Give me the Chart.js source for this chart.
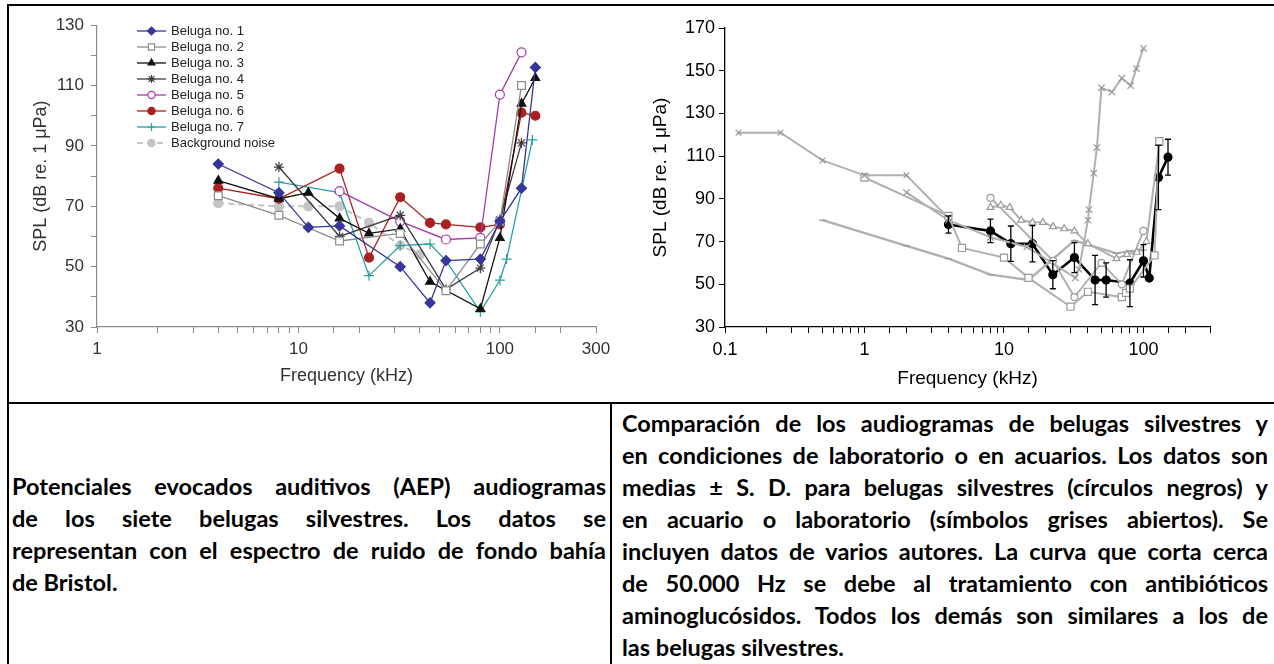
<!DOCTYPE html>
<html>
<head>
<meta charset="utf-8">
<script src="https://cdn.jsdelivr.net/npm/chart.js@4"></script>
<style>
  html, body { margin: 0; padding: 0; background: #fff; }
  body { width: 1274px; height: 664px; position: relative; overflow: hidden; }
  .ln { position: absolute; background: #000; }
  canvas { position: absolute; }
  .cap { position: absolute; font-family: Lato, "Open Sans", sans-serif; font-weight: bold; font-size: 23.5px; color: #000; }
  .cap div { height: 32px; line-height: 32px; text-align: justify; text-align-last: justify; white-space: normal; }
  .cap div.last { text-align-last: left; }
</style>
</head>
<body>
<canvas id="c1" width="610" height="392" style="left:10px;top:8px"></canvas>
<canvas id="c2" width="652" height="392" style="left:622px;top:8px"></canvas>

<div class="ln" style="left:7px;top:4px;width:1267px;height:2px"></div>
<div class="ln" style="left:7px;top:4px;width:2px;height:660px"></div>
<div class="ln" style="left:7px;top:402px;width:1267px;height:2px"></div>
<div class="ln" style="left:610px;top:402px;width:2px;height:262px"></div>

<div class="cap" style="left:12px;top:470px;width:594px">
  <div>Potenciales evocados auditivos (AEP) audiogramas</div>
  <div>de los siete belugas silvestres. Los datos se</div>
  <div>representan con el espectro de ruido de fondo bahía</div>
  <div class="last">de Bristol.</div>
</div>
<div class="cap" style="left:622px;top:407px;width:646px">
  <div>Comparación de los audiogramas de belugas silvestres y</div>
  <div>en condiciones de laboratorio o en acuarios. Los datos son</div>
  <div>medias ± S. D. para belugas silvestres (círculos negros) y</div>
  <div>en acuario o laboratorio (símbolos grises abiertos). Se</div>
  <div>incluyen datos de varios autores. La curva que corta cerca</div>
  <div>de 50.000 Hz se debe al tratamiento con antibióticos</div>
  <div>aminoglucósidos. Todos los demás son similares a los de</div>
  <div class="last">las belugas silvestres.</div>
</div>

<script>
// ---------- Left chart data (AEP audiograms, seven wild belugas) ----------
const leftXLabels = [1, 10, 100, 300];
const leftYLabels = [30, 50, 70, 90, 110, 130];
const seriesNames = ["Beluga no. 1", "Beluga no. 2", "Beluga no. 3", "Beluga no. 4",
                     "Beluga no. 5", "Beluga no. 6", "Beluga no. 7", "Background noise"];

const b1Freq = [4, 8, 11.2, 16, 32, 45, 54, 80, 100, 128, 150];
const b1SPL  = [84, 74.5, 63, 63.5, 50, 38, 52, 52.5, 65, 76, 116];
const b2Freq = [4, 8, 16, 32, 54, 80, 100, 128];
const b2SPL  = [73.5, 67, 58.5, 61, 42, 57.5, 65, 110];
const b3Freq = [4, 8, 11.2, 16, 22.4, 32, 45, 80, 100, 128, 150];
const b3SPL  = [78.5, 72.5, 74.5, 66, 61, 62.5, 45, 36, 59.5, 104, 112.5];
const b4Freq = [8, 16, 32, 54, 80, 100, 128];
const b4SPL  = [83, 60, 67, 42.5, 49.5, 65.5, 91];
const b5Freq = [16, 32, 54, 80, 100, 128];
const b5SPL  = [75, 65, 59, 59.5, 107, 121];
const b6Freq = [4, 8, 16, 22.4, 32, 45, 54, 80, 100, 128, 150];
const b6SPL  = [76, 72.5, 82.5, 53, 73, 64.5, 64, 63, 64, 101, 100];
const b7Freq = [8, 16, 22.4, 32, 45, 54, 80, 100, 108, 145];
const b7SPL  = [78, 74.5, 47, 57, 57.5, 52, 35, 45.5, 52.5, 92];
const bgFreq = [4, 8, 11.2, 16, 22.4, 32, 40];
const bgSPL  = [71, 70, 70, 70, 64.5, 57, 54];

// ---------- Right chart data (wild vs. captive audiograms) ----------
const rightXLabels = [0.1, 1, 10, 100];
const capAFreq = [0.125, 0.25, 0.5, 1, 2, 4];
const capASPL  = [121, 121, 108, 101, 101, 81];
const capBFreq = [1, 4, 5, 10, 15, 30, 40, 70, 75, 80, 120, 130];
const capBSPL  = [100, 82, 67, 62.5, 53, 39.5, 46.5, 44, 46, 48, 63.5, 117];
const capCFreq = [8, 9.5, 11, 13.3, 16, 19, 22.5, 27, 32, 40, 64, 76, 90, 105, 130];
const capCSPL  = [86, 87, 86, 80, 79, 79, 77, 76, 75, 69, 62, 64, 65, 70, 116];
const capDFreq = [8, 22.5, 32, 50, 70, 100];
const capDSPL  = [90.5, 61, 44, 60, 50, 75];
const capEFreq = [2, 4, 8, 14.6, 32.5, 34.5, 40, 40.7, 44, 46.4, 50, 59.4, 70, 81, 89, 100];
const capESPL  = [93, 80, 72, 67.5, 53, 57, 80, 85, 102, 114, 142, 140, 146.5, 143, 151, 160.5];
const capFFreq = [0.5, 2, 4, 8, 15, 32, 64, 80, 100];
const capFSPL  = [80, 68, 62, 54.5, 52, 70.5, 64.5, 65.5, 66];
const wildFreq = [4, 8, 11.2, 16, 22.4, 32, 45, 54, 80, 100, 110, 128, 150];
const wildSPL  = [78, 75, 69, 69, 54.5, 62.5, 52, 52, 50.5, 61, 53, 100, 109.5];
const wildSD   = [4, 5.5, 8.3, 8.5, 6.6, 7, 11.5, 8, 11, 7.6, 0, 15, 8.4];

function pts(f, v) { return f.map((x, i) => ({ x: x, y: v[i] })); }
const near = (v, list) => list.some(t => Math.abs(v - t) / t < 1e-6);
const FONT = "'Liberation Sans', Arial, Helvetica, sans-serif";

function ds(label, f, v, color, style, opts) {
  return Object.assign({
    label: label, data: pts(f, v), borderColor: color, borderWidth: 1.3,
    pointStyle: style, pointRadius: 4.5, pointBorderColor: color,
    pointBackgroundColor: color, pointBorderWidth: 1.2, tension: 0, fill: false
  }, opts || {});
}

const insideLegend = {
  id: 'insideLegend',
  afterDatasetsDraw(chart, args, o) {
    if (!o || !o.show) return;
    const ctx = chart.ctx;
    chart.data.datasets.forEach((d, i) => {
      const y = o.y + i * o.dy;
      ctx.save();
      ctx.strokeStyle = d.borderColor; ctx.lineWidth = d.borderWidth;
      ctx.setLineDash(d.borderDash || []);
      ctx.beginPath(); ctx.moveTo(o.x, y); ctx.lineTo(o.x + o.len, y); ctx.stroke();
      ctx.setLineDash([]);
      ctx.fillStyle = d.pointBackgroundColor; ctx.strokeStyle = d.pointBorderColor;
      ctx.lineWidth = d.pointBorderWidth;
      Chart.helpers.drawPoint(ctx, { pointStyle: d.pointStyle, radius: d.pointRadius * 0.8,
        borderWidth: d.pointBorderWidth, rotation: 0 }, o.x + o.len / 2, y);
      ctx.fillStyle = '#222'; ctx.font = o.font; ctx.textBaseline = 'middle'; ctx.textAlign = 'left';
      ctx.fillText(d.label, o.x + o.len + 5, y + 0.5);
      ctx.restore();
    });
  }
};

const errorBars = {
  id: 'errorBars',
  afterDatasetsDraw(chart) {
    const ctx = chart.ctx, ys = chart.scales.y;
    chart.data.datasets.forEach((d, i) => {
      if (!d.errorBars) return;
      const meta = chart.getDatasetMeta(i);
      ctx.save(); ctx.strokeStyle = '#000'; ctx.lineWidth = 1.3;
      meta.data.forEach((p, j) => {
        const sd = d.errorBars[j]; if (!sd) return;
        const v = d.data[j].y;
        const t = ys.getPixelForValue(v + sd), b = ys.getPixelForValue(v - sd);
        ctx.beginPath();
        ctx.moveTo(p.x, t); ctx.lineTo(p.x, b);
        ctx.moveTo(p.x - 3, t); ctx.lineTo(p.x + 3, t);
        ctx.moveTo(p.x - 3, b); ctx.lineTo(p.x + 3, b);
        ctx.stroke();
      });
      ctx.restore();
    });
  }
};

// ---------- Left chart ----------
const axGray = '#8a8a8a';
new Chart(document.getElementById('c1'), {
  type: 'line',
  data: { datasets: [
    ds(seriesNames[0], b1Freq, b1SPL, '#35359a', 'rectRot', { pointRadius: 5 }),
    ds(seriesNames[1], b2Freq, b2SPL, '#8c8c8c', 'rect', { pointRadius: 5.5, pointBackgroundColor: '#fff' }),
    ds(seriesNames[2], b3Freq, b3SPL, '#111111', 'triangle', { pointRadius: 5 }),
    ds(seriesNames[3], b4Freq, b4SPL, '#3c3c3c', 'star', { pointRadius: 5 }),
    ds(seriesNames[4], b5Freq, b5SPL, '#a23ca6', 'circle', { pointRadius: 4.5, pointBackgroundColor: '#fff' }),
    ds(seriesNames[5], b6Freq, b6SPL, '#a82020', 'circle', { pointRadius: 4.5 }),
    ds(seriesNames[6], b7Freq, b7SPL, '#2aa0a0', 'cross', { pointRadius: 5 }),
    ds(seriesNames[7], bgFreq, bgSPL, '#c4c4c4', 'circle', { pointRadius: 4.5, borderWidth: 2, borderDash: [6, 4] })
  ] },
  options: {
    responsive: false, animation: false, devicePixelRatio: 1,
    layout: { padding: { left: 0, top: 17, right: 24, bottom: 0 } },
    plugins: {
      legend: { display: false }, tooltip: { enabled: false },
      insideLegend: { show: true, x: 127, y: 23, dy: 16, len: 29, font: "13px " + FONT }
    },
    scales: {
      x: {
        type: 'logarithmic', min: 1, max: 300,
        afterFit(s) { s.height = 73; },
        grid: { drawOnChartArea: false, drawTicks: true, tickLength: 6, color: axGray },
        border: { display: true, color: axGray, width: 1.2 },
        ticks: { autoSkip: false, maxRotation: 0, padding: 6, color: '#333', font: { family: FONT, size: 17 },
          callback: (v) => near(v, leftXLabels) ? String(v) : '' },
        title: { display: true, text: 'Frequency (kHz)', color: '#333', font: { family: FONT, size: 18 },
          padding: { top: 0, bottom: 13 } }
      },
      y: {
        type: 'linear', min: 30, max: 130,
        afterFit(s) { s.width = 87; },
        grid: { drawOnChartArea: false, drawTicks: true, tickLength: 6, color: axGray },
        border: { display: true, color: axGray, width: 1.2 },
        ticks: { stepSize: 10, padding: 7, color: '#333', font: { family: FONT, size: 17 },
          callback: (v) => leftYLabels.includes(v) ? String(v) : '' },
        title: { display: true, text: 'SPL (dB re. 1 μPa)', color: '#333', font: { family: FONT, size: 18 },
          padding: { top: 20, bottom: 0 } }
      }
    }
  },
  plugins: [insideLegend]
});

// ---------- Right chart ----------
const g = '#b0b0b0', gm = '#9a9a9a';
function gs(label, f, v, style, r, extra) {
  return ds(label, f, v, g, style, Object.assign({ borderWidth: 2, pointRadius: r,
    pointBorderColor: gm, pointBackgroundColor: '#fff', pointBorderWidth: 1.2 }, extra || {}));
}
new Chart(document.getElementById('c2'), {
  type: 'line',
  data: { datasets: [
    gs('Captive A', capAFreq, capASPL, 'crossRot', 4),
    gs('Captive B', capBFreq, capBSPL, 'rect', 5),
    gs('Captive C', capCFreq, capCSPL, 'triangle', 4),
    gs('Captive D', capDFreq, capDSPL, 'circle', 3.5),
    gs('Aminoglycoside', capEFreq, capESPL, 'crossRot', 4.5),
    gs('Captive F', capFFreq, capFSPL, 'line', 3.5, { borderWidth: 2.4 }),
    ds('Wild belugas (mean ± SD)', wildFreq, wildSPL, '#000', 'circle',
       { borderWidth: 2.6, pointRadius: 4, errorBars: wildSD })
  ] },
  options: {
    responsive: false, animation: false, devicePixelRatio: 1,
    layout: { padding: { left: 0, top: 20, right: 64, bottom: 0 } },
    plugins: { legend: { display: false }, tooltip: { enabled: false } },
    scales: {
      x: {
        type: 'logarithmic', min: 0.1, max: 300,
        afterFit(s) { s.height = 73; },
        grid: { drawOnChartArea: false, drawTicks: true, tickLength: 6, color: '#000' },
        border: { display: true, color: '#000', width: 1.3 },
        ticks: { autoSkip: false, maxRotation: 0, padding: 6, color: '#000', font: { family: FONT, size: 18 },
          callback: (v) => near(v, rightXLabels) ? String(+v.toPrecision(3)) : '' },
        title: { display: true, text: 'Frequency (kHz)', color: '#000', font: { family: FONT, size: 19 },
          padding: { top: 0, bottom: 10 } }
      },
      y: {
        type: 'linear', min: 30, max: 170,
        afterFit(s) { s.width = 103; },
        grid: { drawOnChartArea: false, drawTicks: true, tickLength: 6, color: '#000' },
        border: { display: true, color: '#000', width: 1.3 },
        ticks: { stepSize: 20, padding: 4, color: '#000', font: { family: FONT, size: 18 } },
        title: { display: true, text: 'SPL (dB re. 1 μPa)', color: '#000', font: { family: FONT, size: 19 },
          padding: { top: 27, bottom: 0 } }
      }
    }
  },
  plugins: [errorBars]
});
</script>
</body>
</html>
